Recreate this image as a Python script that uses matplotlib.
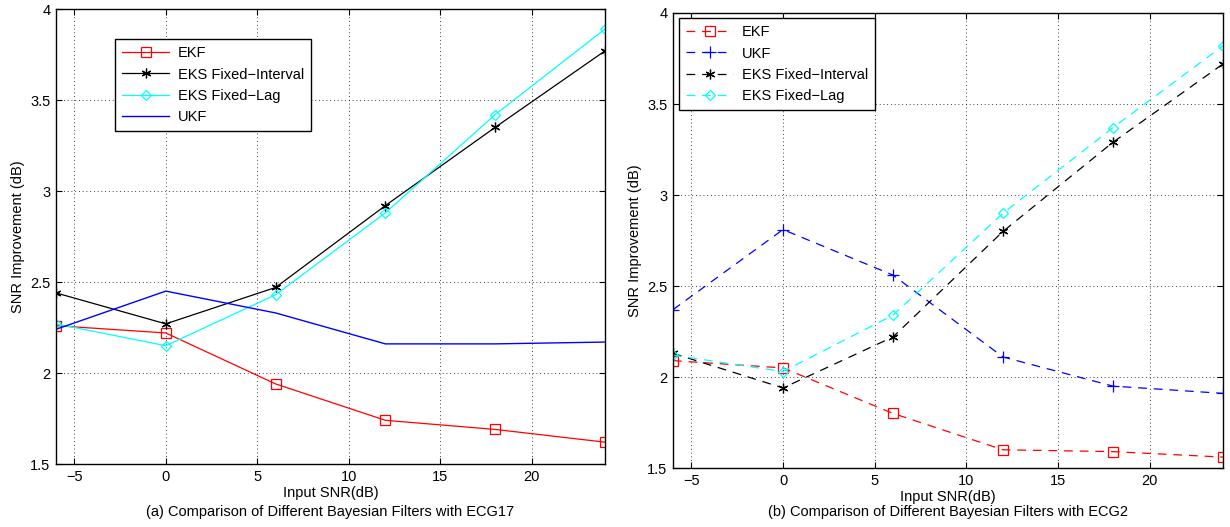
import matplotlib
matplotlib.use("Agg")
import matplotlib.pyplot as plt

plt.rcParams['font.family'] = ['Liberation Sans', 'DejaVu Sans']
plt.rcParams['font.size'] = 10

snr = [-6, 0, 6, 12, 18, 24]
xticks = [-5, 0, 5, 10, 15, 20]
yticks = [1.5, 2, 2.5, 3, 3.5, 4]

# (a) ECG17
a_ekf = [2.26, 2.22, 1.94, 1.74, 1.69, 1.62]
a_eks_fi = [2.44, 2.27, 2.47, 2.92, 3.35, 3.77]
a_eks_fl = [2.27, 2.15, 2.43, 2.88, 3.42, 3.89]
a_ukf = [2.24, 2.45, 2.33, 2.16, 2.16, 2.17]

# (b) ECG2
b_ekf = [2.09, 2.05, 1.80, 1.60, 1.59, 1.56]
b_ukf = [2.37, 2.81, 2.56, 2.11, 1.95, 1.91]
b_eks_fi = [2.13, 1.94, 2.22, 2.80, 3.29, 3.72]
b_eks_fl = [2.12, 2.03, 2.34, 2.90, 3.37, 3.82]

captions = ["(a) Comparison of Different Bayesian Filters with ECG17",
            "(b) Comparison of Different Bayesian Filters with ECG2"]

fig = plt.figure(figsize=(12.3, 5.27), dpi=100)
ax1 = fig.add_axes([56/1230, 1-464/527, 549/1230, 455/527])
ax2 = fig.add_axes([673/1230, 1-468/527, 550/1230, 455/527])

ast = (6, 2, 0)
lw = 0.9

ax1.plot(snr, a_ekf, color='red', lw=lw, marker='s', ms=7.5, mfc='none', mew=0.9, label='EKF')
ax1.plot(snr, a_eks_fi, color='black', lw=lw, marker=ast, ms=7, mew=0.9, label='EKS Fixed\u2212Interval')
ax1.plot(snr, a_eks_fl, color='cyan', lw=lw, marker='D', ms=5.5, mfc='none', mew=0.9, label='EKS Fixed\u2212Lag')
ax1.plot(snr, a_ukf, color='blue', lw=1.0, label='UKF')

ds = (0, (7, 5.5))
ax2.plot(snr, b_ekf, color='red', lw=lw, ls=ds, marker='s', ms=7.5, mfc='none', mew=0.9, label='EKF')
ax2.plot(snr, b_ukf, color='blue', lw=lw, ls=ds, marker='+', ms=8, mew=0.9, label='UKF')
ax2.plot(snr, b_eks_fi, color='black', lw=lw, ls=ds, marker=ast, ms=7, mew=0.9, label='EKS Fixed\u2212Interval')
ax2.plot(snr, b_eks_fl, color='cyan', lw=lw, ls=ds, marker='D', ms=5.5, mfc='none', mew=0.9, label='EKS Fixed\u2212Lag')

for ax, cap in zip([ax1, ax2], captions):
    ax.set_xlim(-6, 24)
    ax.set_ylim(1.5, 4)
    ax.set_xticks(xticks)
    ax.set_yticks(yticks)
    ax.set_yticklabels(['1.5', '2', '2.5', '3', '3.5', '4'])
    ax.set_xticklabels(['\u22125', '0', '5', '10', '15', '20'])
    ax.grid(True, color='black', ls=(0, (1, 3.5)), lw=0.6)
    ax.tick_params(direction='in', top=True, right=True, length=4, width=0.8, labelsize=10.5, pad=4)
    for s in ax.spines.values():
        s.set_linewidth(1.0)
    ax.set_xlabel('Input SNR(dB)', fontsize=10.5, labelpad=2)
    ax.set_ylabel('SNR Improvement (dB)', fontsize=10.5, labelpad=4)
    pos = ax.get_position()
    fig.text(pos.x0 + pos.width / 2, 1 - 512/527, cap, ha='center', va='center',
             fontsize=10.5)

leg_kw = dict(fontsize=10.5, frameon=True, fancybox=False, edgecolor='black',
              framealpha=1, handlelength=3.2, labelspacing=0.5, borderpad=0.5,
              handletextpad=0.6, borderaxespad=0)
l1 = ax1.legend(loc='upper left', bbox_to_anchor=((115-56)/549, (464-39)/455), **leg_kw)
l2 = ax2.legend(loc='upper left', bbox_to_anchor=((679-673)/550, (468-18)/455), **leg_kw)
for l in (l1, l2):
    l.get_frame().set_linewidth(1.0)

fig.savefig('out.png', dpi=100)
